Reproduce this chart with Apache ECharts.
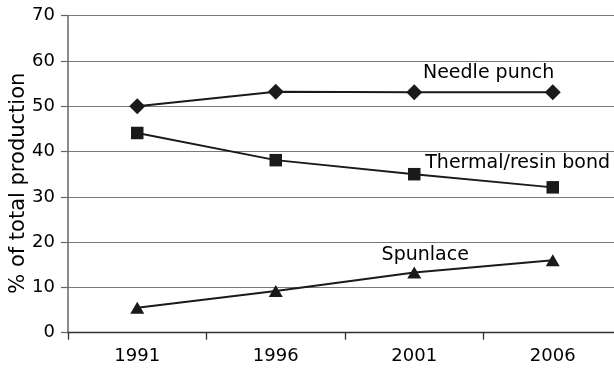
<!DOCTYPE html>
<html>
<head>
<meta charset="utf-8">
<script src="https://cdn.jsdelivr.net/npm/echarts@6/dist/echarts.min.js"></script>
<style>html,body{margin:0;padding:0;background:#fff}#c{width:614px;height:369px}</style>
</head>
<body>
<div id="c"></div>
<script>
const years = ['1991', '1996', '2001', '2006'];
const needlePunch = [50, 53.2, 53.1, 53.1];
const thermalResin = [44.1, 38.1, 35.0, 32.1];
const spunlace = [5.5, 9.2, 13.3, 16.0];
const yTicks = [0, 10, 20, 30, 40, 50, 60, 70];
const seriesNames = ['Needle punch', 'Thermal/resin bond', 'Spunlace'];
const yAxisTitle = '% of total production';

const FONT = 'DejaVu Sans';
const INK = '#1a1a1a';
const TXT = '#000';

function withLabel(values, idx, text, dx, dy, align) {
  return values.map((v, i) => i === idx ? {
    value: v,
    label: {
      show: true, formatter: text, position: 'inside',
      align: align, verticalAlign: 'middle', offset: [dx, dy],
      color: TXT, fontFamily: FONT, fontSize: 19
    }
  } : v);
}

const chart = echarts.init(document.getElementById('c'), null, {renderer: 'canvas'});
const lineCommon = {
  type: 'line',
  lineStyle: {color: INK, width: 1.9},
  itemStyle: {color: INK},
  emphasis: {disabled: true},
  animation: false,
  z: 3
};
chart.setOption({
  animation: false,
  grid: {left: 68, right: -8, top: 15.7, bottom: 36.3, containLabel: false, outerBoundsMode: 'none'},
  xAxis: {
    type: 'category',
    data: years,
    boundaryGap: true,
    axisLine: {show: true, onZero: false, lineStyle: {color: '#333', width: 1.3}},
    axisTick: {show: true, length: 7, alignWithLabel: false, lineStyle: {color: '#333', width: 1.3}},
    axisLabel: {color: TXT, fontFamily: FONT, fontSize: 18, margin: 15},
    splitLine: {show: false}
  },
  yAxis: {
    type: 'value',
    min: yTicks[0], max: yTicks[yTicks.length - 1], interval: 10,
    name: yAxisTitle,
    nameLocation: 'middle',
    nameGap: 39,
    nameRotate: 90,
    nameMoveOverlap: false,
    nameTextStyle: {color: TXT, fontFamily: FONT, fontSize: 21, padding: [0, 18, 0, 0]},
    axisLine: {show: true, lineStyle: {color: '#666', width: 1.5}},
    axisTick: {show: true, length: 7, lineStyle: {color: '#666', width: 1.2}},
    axisLabel: {color: TXT, fontFamily: FONT, fontSize: 18, margin: 13},
    splitLine: {show: true, lineStyle: {color: '#7a7a7a', width: 1.2}}
  },
  series: [
    Object.assign({}, lineCommon, {
      name: seriesNames[0], symbol: 'diamond', symbolSize: 16,
      data: withLabel(needlePunch, 2, seriesNames[0], 8.7, -19, 'left')
    }),
    Object.assign({}, lineCommon, {
      name: seriesNames[1], symbol: 'rect', symbolSize: 12.5,
      data: withLabel(thermalResin, 2, seriesNames[1], 11, -11.5, 'left')
    }),
    Object.assign({}, lineCommon, {
      name: seriesNames[2], symbol: 'triangle', symbolSize: [14, 12],
      data: withLabel(spunlace, 2, seriesNames[2], 11, -17, 'center')
    })
  ]
});
</script>
</body>
</html>
